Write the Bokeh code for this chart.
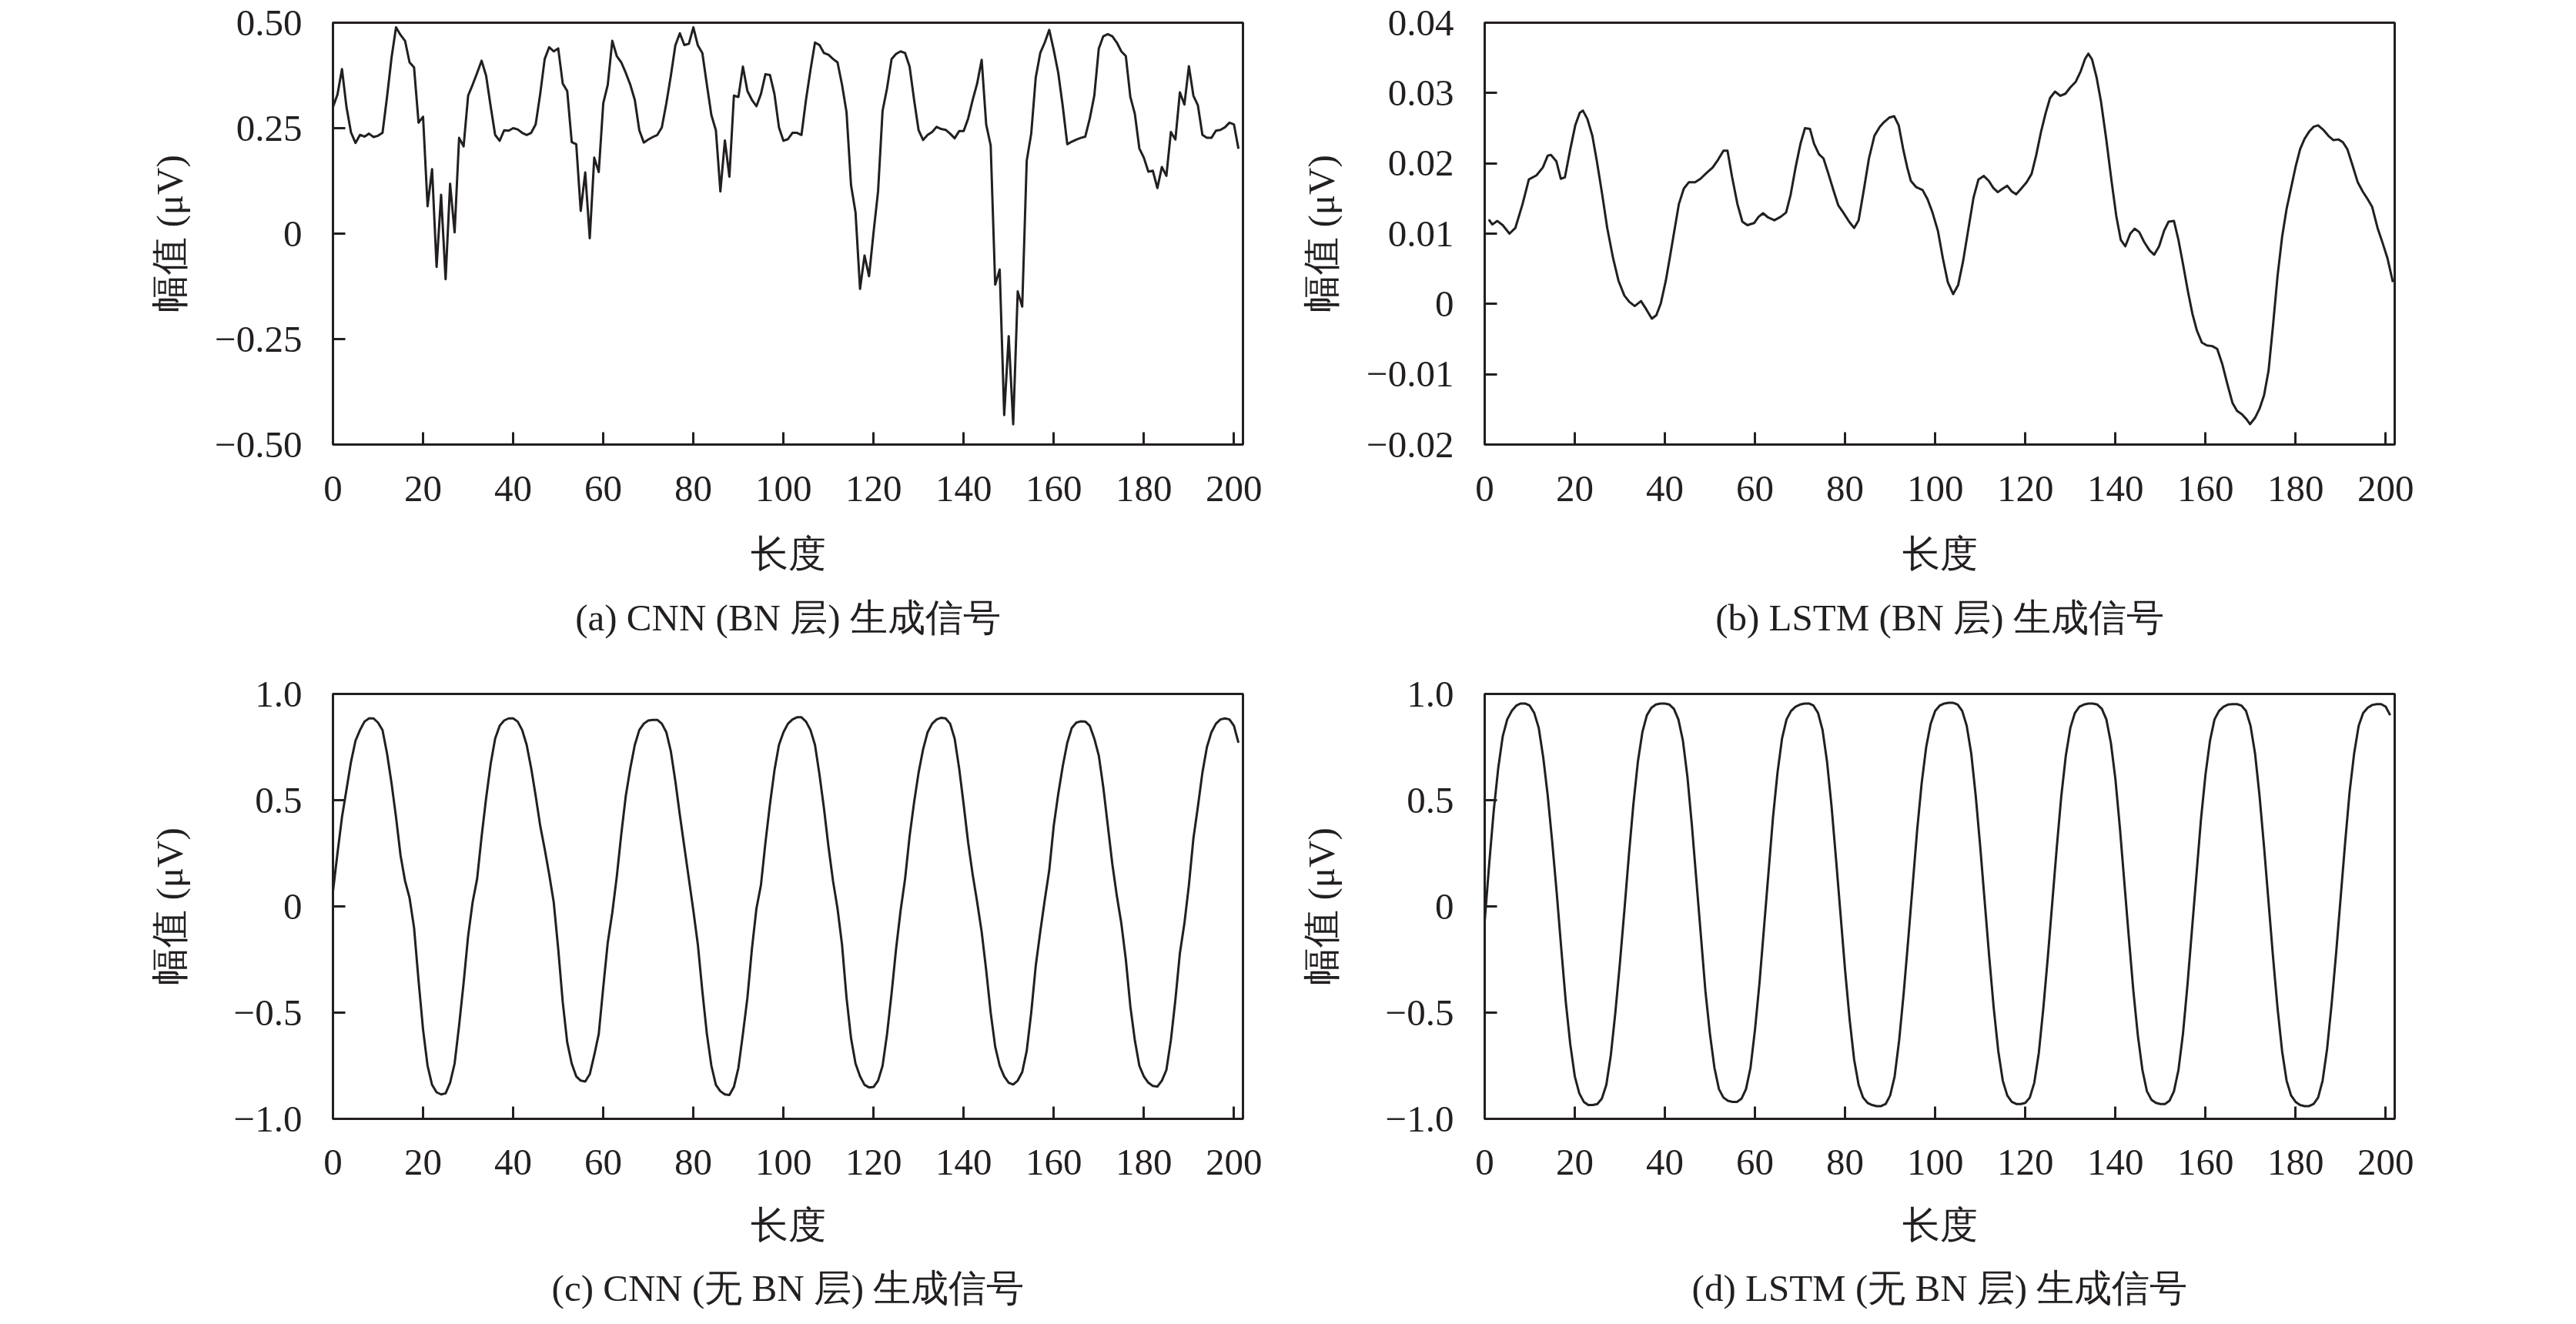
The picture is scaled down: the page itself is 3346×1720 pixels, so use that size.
from bokeh.plotting import figure
from bokeh.models import Range1d, FixedTicker, CustomJSTickFormatter, Title
from bokeh.layouts import column, row
from bokeh.embed import file_html
from bokeh.resources import INLINE

INK = "#231f20"
FONT = "Liberation Serif"

# ---------------- data ----------------
x_ticks = [0, 20, 40, 60, 80, 100, 120, 140, 160, 180, 200]

# (a) CNN (BN layer) generated signal, one value per sample 0..201
a_y = [0.30, 0.33, 0.39, 0.30, 0.24, 0.215, 0.234, 0.23, 0.237, 0.229,
       0.232, 0.239, 0.324, 0.417, 0.489, 0.471, 0.457, 0.406, 0.394, 0.263,
       0.277, 0.065, 0.153, -0.079, 0.092, -0.108, 0.118, 0.003, 0.227, 0.207,
       0.327, 0.353, 0.381, 0.41, 0.374, 0.302, 0.234, 0.22, 0.245, 0.244,
       0.25, 0.247, 0.239, 0.234, 0.239, 0.259, 0.331, 0.414, 0.442, 0.432,
       0.439, 0.356, 0.338, 0.217, 0.212, 0.054, 0.145, -0.011, 0.18, 0.146,
       0.309, 0.353, 0.457, 0.421, 0.406, 0.381, 0.353, 0.317, 0.245, 0.216,
       0.223, 0.229, 0.234, 0.252, 0.309, 0.374, 0.446, 0.475, 0.447, 0.45,
       0.489, 0.446, 0.428, 0.353, 0.281, 0.245, 0.10, 0.221, 0.135, 0.327,
       0.324, 0.396, 0.338, 0.317, 0.302, 0.331, 0.378, 0.376, 0.331, 0.252,
       0.22, 0.224, 0.239, 0.239, 0.234, 0.317, 0.388, 0.453, 0.447, 0.428,
       0.424, 0.414, 0.406, 0.353, 0.288, 0.115, 0.05, -0.131, -0.052, -0.101,
       0.003, 0.10, 0.291, 0.345, 0.414, 0.426, 0.432, 0.428, 0.396, 0.317,
       0.245, 0.222, 0.234, 0.241, 0.253, 0.248, 0.246, 0.237, 0.226, 0.243,
       0.243, 0.273, 0.317, 0.356, 0.412, 0.259, 0.209, -0.121, -0.085, -0.43,
       -0.243, -0.452, -0.137, -0.173, 0.173, 0.237, 0.37, 0.428, 0.453, 0.483,
       0.435, 0.381, 0.302, 0.212, 0.218, 0.223, 0.227, 0.23, 0.273, 0.327,
       0.439, 0.468, 0.473, 0.468, 0.453, 0.432, 0.421, 0.324, 0.284, 0.202,
       0.18, 0.147, 0.149, 0.108, 0.158, 0.137, 0.241, 0.223, 0.335, 0.306,
       0.397, 0.327, 0.304, 0.234, 0.227, 0.227, 0.244, 0.246, 0.252, 0.263,
       0.259, 0.201]

# (b) LSTM (BN layer) generated signal
b_x = [0.9, 1.7, 2.8, 4, 5.5, 6.8, 8.4, 9.8, 11.5, 12.9, 14, 14.7, 15.9, 16.9,
       17.8, 19, 20.1, 21.1, 21.8, 22.8, 23.9, 24.9, 26.1, 27.2, 28.5, 29.7, 31,
       32.1, 33.3, 34.7, 35.9, 37.1, 38.1, 39.1, 40.2, 41.2, 42.2, 43.1, 44.2,
       45.3, 46.7, 47.9, 49.2, 50.6, 51.8, 53, 53.9, 54.9, 56.1, 57.2, 58.3,
       59.8, 60.8, 61.8, 62.9, 64.3, 65.7, 66.9, 67.9, 69, 70.1, 71.1, 72.2,
       73.1, 74.2, 75.2, 76.3, 77.5, 78.5, 79.6, 80.9, 82, 83, 84.1, 85.3, 86.5,
       87.7, 88.7, 89.8, 90.9, 91.9, 92.9, 93.8, 94.6, 95.8, 97.2, 98.3, 99.4,
       100.6, 101.7, 102.8, 104, 105.1, 106.2, 107.4, 108.5, 109.6, 110.8,
       111.9, 112.9, 113.9, 115, 116, 117, 118, 119.1, 120.3, 121.4, 122.4,
       123.5, 124.5, 125.5, 126.6, 127.8, 128.9, 130, 131.2, 132.3, 133.3, 134,
       134.8, 135.8, 136.8, 138, 139.1, 140.2, 141.2, 142.2, 143.3, 144.3,
       145.3, 146.4, 147.6, 148.6, 149.7, 150.8, 151.8, 153, 154, 155, 156.1,
       157.1, 158.1, 159.2, 160.3, 161.5, 162.6, 163.7, 164.9, 166, 167, 168.1,
       169.1, 169.9, 171, 172, 173, 174, 175, 176, 177, 178, 179, 180, 181, 182,
       183, 184, 185, 186.1, 187.3, 188.4, 189.5, 190.5, 191.5, 192.6, 193.8,
       194.9, 196, 197, 198.2, 199.3, 200.4, 201.6]
b_y = [0.0120, 0.0113, 0.0118, 0.0112, 0.0100, 0.0108, 0.0142, 0.0177, 0.0183,
       0.0194, 0.0211, 0.0212, 0.0203, 0.0178, 0.0180, 0.0220, 0.0254, 0.0272,
       0.0275, 0.0263, 0.0239, 0.0203, 0.0155, 0.0108, 0.0065, 0.0033, 0.0012,
       0.0003, -0.0003, 0.0004, -0.0008, -0.0021, -0.0016, 0.0001, 0.0033,
       0.0070, 0.0108, 0.0142, 0.0164, 0.0173, 0.0173, 0.0178, 0.0186, 0.0194,
       0.0205, 0.0218, 0.0218, 0.0181, 0.0142, 0.0117, 0.0112, 0.0115, 0.0124,
       0.0129, 0.0123, 0.0119, 0.0124, 0.0130, 0.0155, 0.0194, 0.0228, 0.0250,
       0.0249, 0.0228, 0.0213, 0.0207, 0.0185, 0.0160, 0.0140, 0.0130, 0.0117,
       0.0108, 0.0119, 0.0160, 0.0207, 0.0239, 0.0252, 0.0259, 0.0265, 0.0267,
       0.0254, 0.0220, 0.0194, 0.0175, 0.0166, 0.0162, 0.0149, 0.0130, 0.0104,
       0.0065, 0.0031, 0.0014, 0.0027, 0.0061, 0.0108, 0.0151, 0.0177, 0.0182,
       0.0175, 0.0165, 0.0159, 0.0164, 0.0168, 0.0160, 0.0156, 0.0164, 0.0173,
       0.0185, 0.0211, 0.0245, 0.0271, 0.0293, 0.0302, 0.0296, 0.0299, 0.0308,
       0.0316, 0.0331, 0.0349, 0.0356, 0.0348, 0.0323, 0.0288, 0.0233, 0.0177,
       0.0125, 0.0091, 0.0082, 0.0100, 0.0107, 0.0102, 0.0088, 0.0076, 0.0070,
       0.0082, 0.0104, 0.0117, 0.0118, 0.0091, 0.0057, 0.0018, -0.0014, -0.0038,
       -0.0055, -0.0059, -0.0060, -0.0064, -0.0085, -0.0115, -0.0141, -0.0152,
       -0.0157, -0.0164, -0.0171, -0.0162, -0.0149, -0.0130, -0.0095, -0.0030,
       0.0040, 0.0095, 0.0135, 0.0165, 0.0195, 0.0220, 0.0235, 0.0245, 0.0252,
       0.0254, 0.0248, 0.0239, 0.0233, 0.0234, 0.0230, 0.0220, 0.0198, 0.0173,
       0.0160, 0.0149, 0.0138, 0.0108, 0.0087, 0.0065, 0.0031]

# (c) CNN (no BN layer) generated signal, one value per sample 0..201
c_y = [0.07, 0.25, 0.42, 0.55, 0.68, 0.78, 0.83, 0.87, 0.885, 0.885,
       0.865, 0.83, 0.72, 0.58, 0.42, 0.24, 0.12, 0.04, -0.10, -0.35,
       -0.58, -0.75, -0.84, -0.875, -0.885, -0.88, -0.83, -0.74, -0.56, -0.36,
       -0.14, 0.02, 0.13, 0.33, 0.51, 0.67, 0.79, 0.85, 0.875, 0.885,
       0.885, 0.87, 0.83, 0.76, 0.65, 0.52, 0.38, 0.27, 0.15, 0.02,
       -0.20, -0.45, -0.64, -0.74, -0.80, -0.82, -0.824, -0.79, -0.70, -0.60,
       -0.38, -0.17, -0.03, 0.14, 0.34, 0.52, 0.65, 0.76, 0.83, 0.86,
       0.875, 0.878, 0.878, 0.86, 0.82, 0.73, 0.59, 0.43, 0.28, 0.13,
       -0.02, -0.18, -0.40, -0.60, -0.75, -0.84, -0.87, -0.885, -0.888, -0.85,
       -0.76, -0.60, -0.43, -0.20, -0.01, 0.10, 0.30, 0.48, 0.64, 0.76,
       0.82, 0.86, 0.88, 0.89, 0.89, 0.87, 0.83, 0.76, 0.62, 0.46,
       0.28, 0.12, -0.01, -0.18, -0.43, -0.62, -0.74, -0.80, -0.84, -0.852,
       -0.85, -0.82, -0.75, -0.60, -0.41, -0.20, -0.02, 0.13, 0.33, 0.49,
       0.63, 0.74, 0.82, 0.86, 0.88, 0.888, 0.885, 0.86, 0.79, 0.65,
       0.48, 0.30, 0.15, 0.02, -0.12, -0.30, -0.50, -0.66, -0.75, -0.80,
       -0.83, -0.838, -0.82, -0.78, -0.68, -0.50, -0.28, -0.12, 0.03, 0.17,
       0.38, 0.53, 0.66, 0.77, 0.84, 0.865, 0.871, 0.87, 0.85, 0.79,
       0.71, 0.56, 0.38, 0.20, 0.05, -0.08, -0.25, -0.47, -0.63, -0.75,
       -0.80, -0.83, -0.845, -0.848, -0.82, -0.77, -0.63, -0.44, -0.22, -0.08,
       0.10, 0.32, 0.47, 0.63, 0.75, 0.82, 0.86, 0.88, 0.885, 0.88,
       0.85, 0.77]

# (d) LSTM (no BN layer) generated signal, one value per sample 0..201
d_y = [-0.07, 0.20, 0.45, 0.65, 0.80, 0.88, 0.92, 0.945, 0.955, 0.955,
       0.945, 0.91, 0.84, 0.70, 0.52, 0.30, 0.06, -0.20, -0.45, -0.65,
       -0.80, -0.88, -0.92, -0.935, -0.935, -0.93, -0.905, -0.84, -0.70, -0.50,
       -0.27, -0.02, 0.24, 0.48, 0.68, 0.82, 0.90, 0.935, 0.95, 0.955,
       0.955, 0.95, 0.93, 0.88, 0.78, 0.61, 0.38, 0.12, -0.14, -0.40,
       -0.60, -0.76, -0.86, -0.90, -0.915, -0.92, -0.92, -0.905, -0.86, -0.76,
       -0.58, -0.36, -0.10, 0.16, 0.42, 0.63, 0.79, 0.88, 0.92, 0.94,
       0.95, 0.955, 0.955, 0.945, 0.91, 0.83, 0.68, 0.47, 0.22, -0.04,
       -0.30, -0.53, -0.72, -0.84, -0.90, -0.925, -0.935, -0.94, -0.94, -0.93,
       -0.89, -0.80, -0.63, -0.41, -0.16, 0.10, 0.36, 0.58, 0.75, 0.86,
       0.92, 0.945, 0.955, 0.958, 0.958, 0.95, 0.92, 0.85, 0.72, 0.52,
       0.28, 0.02, -0.24, -0.48, -0.68, -0.82, -0.89, -0.92, -0.93, -0.93,
       -0.925, -0.90, -0.83, -0.69, -0.48, -0.24, 0.02, 0.28, 0.52, 0.71,
       0.84, 0.91, 0.94, 0.95, 0.955, 0.955, 0.95, 0.93, 0.88, 0.77,
       0.60, 0.37, 0.11, -0.15, -0.40, -0.61, -0.77, -0.87, -0.91, -0.925,
       -0.93, -0.93, -0.915, -0.87, -0.77, -0.60, -0.37, -0.11, 0.15, 0.41,
       0.62, 0.78, 0.88, 0.92, 0.94, 0.95, 0.952, 0.952, 0.945, 0.92,
       0.85, 0.72, 0.52, 0.28, 0.02, -0.24, -0.48, -0.68, -0.82, -0.89,
       -0.92, -0.935, -0.94, -0.94, -0.93, -0.90, -0.82, -0.67, -0.46, -0.22,
       0.04, 0.30, 0.54, 0.72, 0.85, 0.91, 0.935, 0.948, 0.952, 0.952,
       0.94, 0.90]

a_yticks = [-0.5, -0.25, 0, 0.25, 0.5]
b_yticks = [-0.02, -0.01, 0, 0.01, 0.02, 0.03, 0.04]
cd_yticks = [-1.0, -0.5, 0, 0.5, 1.0]

x_label = "长度"
y_label = "幅值 (μV)"
captions = ["(a) CNN (BN 层) 生成信号", "(b) LSTM (BN 层) 生成信号",
            "(c) CNN (无 BN 层) 生成信号", "(d) LSTM (无 BN 层) 生成信号"]

FS = "49px"
FRAME_W = 1182


def panel(xs, ys, yr, yticks, digits, caption, width, left, height, top, bottom,
          ylab_standoff, tick_standoff, xlab_standoff, gap):
    p = figure(width=width, height=height, x_range=Range1d(0, 202),
               y_range=Range1d(*yr), output_backend="svg",
               toolbar_location=None, min_border_left=left,
               min_border_right=width - left - FRAME_W, min_border_top=top,
               min_border_bottom=bottom)
    p.grid.visible = False
    p.outline_line_color = INK
    p.outline_line_width = 3
    p.outline_line_alpha = 1.0
    p.background_fill_color = "white"
    p.border_fill_color = "white"
    p.line(xs, ys, line_width=3, line_color=INK, line_join="round")

    for ax in (p.xaxis[0], p.yaxis[0]):
        ax.axis_line_color = INK
        ax.axis_line_width = 3
        ax.major_tick_line_color = INK
        ax.major_tick_line_width = 3
        ax.major_tick_in = 16
        ax.major_tick_out = 0
        ax.minor_tick_line_color = None
        ax.major_label_text_font = FONT
        ax.major_label_text_font_size = FS
        ax.major_label_text_color = INK
        ax.axis_label_text_font = FONT
        ax.axis_label_text_font_size = FS
        ax.axis_label_text_font_style = "normal"
        ax.axis_label_text_color = INK

    xa = p.xaxis[0]
    xa.ticker = FixedTicker(ticks=x_ticks)
    xa.formatter = CustomJSTickFormatter(code="return tick.toFixed(0);")
    xa.major_label_standoff = tick_standoff
    xa.axis_label = x_label
    xa.axis_label_standoff = xlab_standoff

    ya = p.yaxis[0]
    ya.ticker = FixedTicker(ticks=yticks)
    ya.formatter = CustomJSTickFormatter(
        args=dict(d=digits),
        code="if (Math.abs(tick) < 1e-12) { return '0'; } "
             "return tick.toFixed(d).replace('-', '\u2212');")
    ya.major_label_standoff = 40
    ya.axis_label = y_label
    ya.axis_label_standoff = ylab_standoff

    # thin blank spacer, then the panel caption right under it
    p.add_layout(Title(text=" ", text_font_size="1px", standoff=gap), "below")
    p.add_layout(Title(text=caption, align="center", text_font=FONT,
                       text_font_size=FS, text_font_style="normal",
                       text_color=INK, standoff=0), "below")
    return p


a_x = list(range(len(a_y)))
c_x = list(range(len(c_y)))
d_x = list(range(len(d_y)))

# top row: frame 548 px tall; bottom row: frame 552 px tall
pa = panel(a_x, a_y, (-0.5, 0.5), a_yticks, 2, captions[0],
           1674, 432, 866, 29, 289, 28, 41, 38, 20)
pb = panel(b_x, b_y, (-0.02, 0.04), b_yticks, 2, captions[1],
           1496, 254, 866, 29, 289, 28, 41, 38, 20)
pc = panel(c_x, c_y, (-1.0, 1.0), cd_yticks, 1, captions[2],
           1674, 432, 838, 35, 251, 53, 40, 35, 19)
pd = panel(d_x, d_y, (-1.0, 1.0), cd_yticks, 1, captions[3],
           1496, 254, 838, 35, 251, 53, 40, 35, 19)

layout = column(row(pa, pb), row(pc, pd))

with open("out.html", "w") as f:
    f.write(file_html(layout, INLINE))
